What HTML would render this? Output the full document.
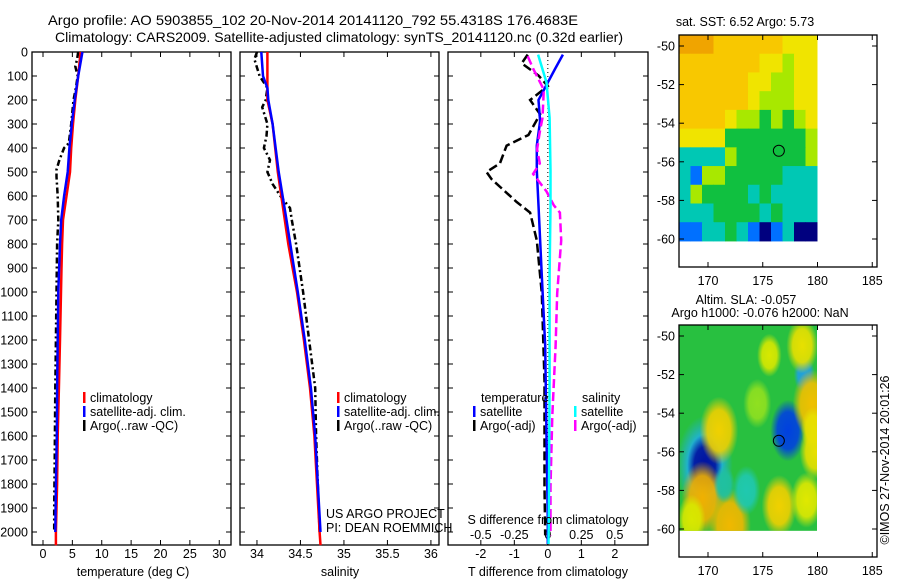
<!DOCTYPE html>
<html><head><meta charset="utf-8">
<style>
html,body{margin:0;padding:0;background:#fff;}
svg{display:block;font-family:"Liberation Sans",sans-serif;}
text{fill:#000;}
</style></head>
<body>
<svg id="fig" width="900" height="580" viewBox="0 0 900 580" xmlns="http://www.w3.org/2000/svg">
<text x="48" y="25" font-size="14" textLength="530" lengthAdjust="spacingAndGlyphs">Argo profile: AO 5903855_102 20-Nov-2014 20141120_792 55.4318S 176.4683E</text>
<text x="55" y="42" font-size="14" textLength="568" lengthAdjust="spacingAndGlyphs">Climatology: CARS2009. Satellite-adjusted climatology: synTS_20141120.nc (0.32d earlier)</text>
<g id="g"></g>
</svg>
<script>
// ---- profile data ----
const tClimDepth=[0,100,200,300,400,500,600,700,800,900,1000,1200,1400,1600,1800,2000,2055];
const tClim=[6.4,6.0,5.5,5.1,4.8,4.6,4.0,3.4,3.25,3.15,3.07,2.9,2.7,2.5,2.4,2.2,2.2];
const tSatDepth=[0,100,200,300,400,500,600,700,800,1000,1200,1400,1600,1800,2000];
const tSat=[6.7,6.0,5.4,4.9,4.5,4.2,3.6,3.1,2.9,2.6,2.5,2.4,2.35,2.2,2.1];
const tArgoDepth=[0,30,60,100,150,200,300,380,400,450,490,520,600,700,800,1000,1200,1400,1700,1900,2000];
const tArgo=[6.0,5.8,5.5,5.9,5.6,5.2,4.8,4.4,3.6,2.8,2.3,2.3,2.5,2.6,2.4,2.3,2.2,2.1,2.0,1.9,1.9];
const sClimDepth=[0,200,300,400,500,600,700,800,900,1000,1200,1400,1600,1800,2000,2055];
const sClim=[34.12,34.12,34.18,34.21,34.24,34.28,34.32,34.36,34.41,34.46,34.54,34.61,34.66,34.69,34.72,34.73];
const sSatDepth=[0,100,150,200,300,500,700,1000,1200,1400,1600,1800,2000];
const sSat=[34.05,34.07,34.12,34.13,34.18,34.25,34.34,34.47,34.55,34.62,34.67,34.70,34.73];
const sArgoDepth=[0,30,100,150,200,230,300,350,400,450,500,550,600,650,700,800,900,1000,1200,1400,1600,1800,2000];
const sArgo=[34.0,33.97,34.03,34.12,34.1,34.06,34.12,34.11,34.08,34.15,34.12,34.18,34.27,34.38,34.4,34.45,34.49,34.53,34.6,34.67,34.68,34.7,34.72];
const dTSatDepth=[11,69,127,200,288,390,493,639,932,1224,1516,1955,2050];
const dTSat=[0.45,0.22,0,-0.28,-0.23,-0.33,-0.33,-0.28,-0.18,-0.08,-0.05,0,0];
const dTArgoDepth=[11,47,98,142,200,259,346,390,464,500,530,625,669,785,1005,1370,1809,2014];
const dTArgo=[-0.6,-0.78,-0.28,0,-0.53,-0.23,-0.58,-1.23,-1.43,-1.83,-1.68,-0.93,-0.53,-0.33,-0.18,-0.1,-0.1,-0.08];
const dSSatDepth=[11,127,274,493,639,932,1370,1955,2050];
const dSSat=[-0.073,-0.01,0.013,0.02,0.02,0.013,0.013,0.007,0.005];
const dSArgoDepth=[18,69,157,274,332,405,464,508,581,639,669,785,1005,1224,1516,1809,2014];
const dSArgo=[-0.15,-0.11,-0.03,-0.04,-0.06,-0.08,-0.06,-0.11,-0.01,0.045,0.09,0.1,0.07,0.058,0.033,0.02,0.02];
const depthTicks=[0,100,200,300,400,500,600,700,800,900,1000,1100,1200,1300,1400,1500,1600,1700,1800,1900,2000];
const tTicks=[0,5,10,15,20,25,30];
const sTicks=[34,34.5,35,35.5,36];
const sTickLabels=["34","34.5","35","35.5","36"];
const dTTicks=[-2,-1,0,1,2];
const dSTicks=[-0.5,-0.25,0,0.25,0.5];
const dSTickLabels=["-0.5","-0.25","0","0.25","0.5"];
// ---- map data ----
const sstPalette=["#00007f","#0070ff","#00c8b4","#10c040","#a8e800","#f0e400","#f8c800","#f0a400"];
const sstGrid=[
"777666666555",
"666666655455",
"666666554455",
"666666544455",
"666654434345",
"555533333334",
"222243333334",
"214433333222",
"243333232222",
"222333323222",
"112232101200"];
const slaLon=[169.7,169.7,177.3,178.8,171,169.5,172,176.5,179.5,179.8,178.6,175.6,173.5,179,171.5,168.5,179.6,174.5];
const slaLat=[-56.7,-56.7,-54.9,-52.0,-54.9,-58.4,-59.8,-58.8,-53.5,-56.0,-50.5,-51.0,-58.0,-58.5,-57.7,-59.5,-54.8,-53.5];
const slaR=[1.6,1.0,1.0,0.6,1.1,1.2,1.2,1.0,1.1,0.9,0.9,0.7,0.8,0.9,0.6,0.8,0.7,0.8];
const slaColor=["#20b0e0","#0010a0","#0040e0","#20a0e0","#f0d000","#f0b000","#f0b800","#f0d000","#f0c000","#e8e000","#e8e000","#d8e800","#20c8b0","#e0e800","#20c0a0","#d8e800","#e8e000","#90e020"];

const NS="http://www.w3.org/2000/svg";
const G=document.getElementById('g');
function el(tag,attrs,parent){const e=document.createElementNS(NS,tag);for(const k in attrs)e.setAttribute(k,attrs[k]);(parent||G).appendChild(e);return e;}
function txt(s,x,y,size,anchor,parent){const t=el('text',{x:x,y:y,'font-size':size,'text-anchor':anchor||'start'},parent);t.textContent=s;return t;}

const pTop=52,pBot=545;
const dy=d=>pTop+d*0.24;

function panel(name,x0,x1,xmin,xmax){
  const sx=v=>x0+(v-xmin)/(xmax-xmin)*(x1-x0);
  const r=el('rect',{x:x0,y:pTop,width:x1-x0,height:pBot-pTop,fill:'none',stroke:'#000','stroke-width':1.3});
  
  
  depthTicks.forEach(d=>{
    el('line',{x1:x0,x2:x0+5,y1:dy(d),y2:dy(d),stroke:'#000'});
    el('line',{x1:x1-5,x2:x1,y1:dy(d),y2:dy(d),stroke:'#000'});
  });
  return sx;
}
function line(name,xs,ds,sx,color,dash,w){
  let p='';xs.forEach((v,i)=>{p+=(i?'L':'M')+sx(v).toFixed(1)+','+dy(ds[i]).toFixed(1);});
  const e=el('path',{d:p,fill:'none',stroke:color,'stroke-width':w||2.5});
  if(dash)e.setAttribute('stroke-dasharray',dash);
  
  
}
function xticks(sx,ticks,labels,y){
  ticks.forEach((v,i)=>{
    const x=sx(v);
    el('line',{x1:x,x2:x,y1:pBot,y2:pBot-5,stroke:'#000'});
    el('line',{x1:x,x2:x,y1:pTop,y2:pTop+5,stroke:'#000'});
    const t=txt(labels?labels[i]:String(v),x,y,12.5,'middle');
    
    
  });
}
function legend(name,x,y,items){
  items.forEach((it,i)=>{
    const yy=y+i*14;
    el('rect',{x:x,y:yy-10,width:2.5,height:11,fill:it[1]});
    const t=txt(it[0],x+7,yy,12.5);
    
    
  });
}

depthTicks.forEach(d=>{const t=txt(String(d),28,dy(d)+4.5,12.5,'end');});

// panel 1
const sxT=panel('temperature-panel',32,231,-1.87,32.0);
xticks(sxT,tTicks,null,558);
line('temp-argo',tArgo,tArgoDepth,sxT,'#000','6,3,2,3',2.5);
line('temp-climatology',tClim,tClimDepth,sxT,'#ff0000',null,2.5);
line('temp-satellite-adj',tSat,tSatDepth,sxT,'#0000ff',null,2.5);
txt('temperature (deg C)',133,576,12.5,'middle');
legend('temp-legend',83,402,[['climatology','#ff0000'],['satellite-adj. clim.','#0000ff'],['Argo(..raw -QC)','#000']]);

// panel 2
const sxS=panel('salinity-panel',240,439,33.805,36.093);
xticks(sxS,sTicks,sTickLabels,558);
line('sal-argo',sArgo,sArgoDepth,sxS,'#000','6,3,2,3',2.5);
line('sal-climatology',sClim,sClimDepth,sxS,'#ff0000',null,2.5);
line('sal-satellite-adj',sSat,sSatDepth,sxS,'#0000ff',null,2.5);
txt('salinity',340,576,12.5,'middle');
legend('sal-legend',337,402,[['climatology','#ff0000'],['satellite-adj. clim.','#0000ff'],['Argo(..raw -QC)','#000']]);
txt('US ARGO PROJECT',326,518,12.5);
txt('PI: DEAN ROEMMICH',326,532,12.5);

// panel 3
const sxD=panel('difference-panel',448,648,-2.98,2.99);
const sxDS=v=>sxD(v*4);
el('line',{x1:sxD(0),x2:sxD(0),y1:pTop,y2:pBot,stroke:'#000','stroke-dasharray':'1,3'});
xticks(sxD,dTTicks,null,558);
dSTickLabels.forEach((l,i)=>{const t=txt(l,sxDS(dSTicks[i]),539,12.5,'middle');});
line('dT-argo',dTArgo,dTArgoDepth,sxD,'#000','9,4',2.5);
line('dT-satellite',dTSat,dTSatDepth,sxD,'#0000ff',null,2.5);
line('dS-argo',dSArgo,dSArgoDepth,sxDS,'#ff00ff','9,4',2.5);
line('dS-satellite',dSSat,dSSatDepth,sxDS,'#00ffff',null,2.5);
txt('S difference from climatology',548,524,12.5,'middle');
txt('T difference from climatology',548,576,12.5,'middle');
txt('temperature',481,402,12.5);
txt('salinity',582,402,12.5);
legend('dT-legend',473,416,[['satellite','#0000ff'],['Argo(-adj)','#000']]);
legend('dS-legend',574,416,[['satellite','#00ffff'],['Argo(-adj)','#ff00ff']]);

// maps
function map(name,boxTop,latM50){
  const lx=lon=>708+(lon-170)*10.95;
  const ly=lat=>latM50+(-50-lat)*19.3;
  const g=el('g',{});
  
  
  return {g,lx,ly,boxTop};
}
function mapFrame(m){
  const {g,lx,ly,boxTop}=m;
  const bb=boxTop+232;
  el('rect',{x:679,y:boxTop,width:198,height:232,fill:'none',stroke:'#000','stroke-width':1.3},g);
  [170,175,180,185].forEach(l=>{
    el('line',{x1:lx(l),x2:lx(l),y1:bb,y2:bb-5,stroke:'#000'},g);
    el('line',{x1:lx(l),x2:lx(l),y1:boxTop,y2:boxTop+5,stroke:'#000'},g);
    txt(String(l),lx(l),bb+18,12.5,'middle',g);
  });
  [-50,-52,-54,-56,-58,-60].forEach(l=>{
    el('line',{x1:679,x2:684,y1:ly(l),y2:ly(l),stroke:'#000'},g);
    el('line',{x1:872,x2:877,y1:ly(l),y2:ly(l),stroke:'#000'},g);
    txt(String(l),675,ly(l)+4.5,12.5,'end',g);
  });
  const c=el('circle',{cx:lx(176.47),cy:ly(-55.43),r:5.5,fill:'none',stroke:'#000','stroke-width':1},g);
  
  
}
// SST map
const m1=map('sst-map',35,46);
{
  const x0=679,x1=817,y0=35,y1=m1.ly(-60.1);
  const cw=(x1-x0)/12,ch=(y1-y0)/sstGrid.length;
  sstGrid.forEach((row,r)=>{[...row].forEach((c,k)=>{
    const cell=el('rect',{x:x0+k*cw,y:y0+r*ch,width:cw+0.5,height:ch+0.5,fill:sstPalette[+c]},m1.g);
    
    
  });});
}
mapFrame(m1);
txt('sat. SST: 6.52 Argo: 5.73',745,26,12.5,'middle');
// SLA map
const m2=map('sla-map',325,336);
{
  const x0=679,x1=817,y0=325,y1=m2.ly(-60.1);
  const defs=el('defs',{},m2.g);
  el('clipPath',{id:'slaclip'},defs).appendChild(el('rect',{x:x0,y:y0,width:x1-x0,height:y1-y0},defs));
  const cg=el('g',{'clip-path':'url(#slaclip)'},m2.g);
  el('rect',{x:x0,y:y0,width:x1-x0,height:y1-y0,fill:'#28c040'},cg);
  slaLon.forEach((lon,i)=>{
    const id='rg'+i;
    const rg=el('radialGradient',{id:id},defs);
    el('stop',{offset:'0%','stop-color':slaColor[i],'stop-opacity':1},rg);
    el('stop',{offset:'60%','stop-color':slaColor[i],'stop-opacity':0.9},rg);
    el('stop',{offset:'100%','stop-color':slaColor[i],'stop-opacity':0},rg);
    const e=el('ellipse',{cx:m2.lx(lon),cy:m2.ly(slaLat[i]),rx:slaR[i]*10.95*1.6,ry:slaR[i]*19.3*1.6,fill:'url(#'+id+')'},cg);
    
    
  });
}
mapFrame(m2);
txt('Altim. SLA: -0.057',746,304,12.5,'middle');
txt('Argo h1000: -0.076 h2000: NaN',760,317,12.5,'middle');
const cr=txt('©IMOS 27-Nov-2014 20:01:26',0,0,12.5,'middle');
cr.setAttribute('transform','translate(889,460) rotate(-90)');


</script>
</body></html>
